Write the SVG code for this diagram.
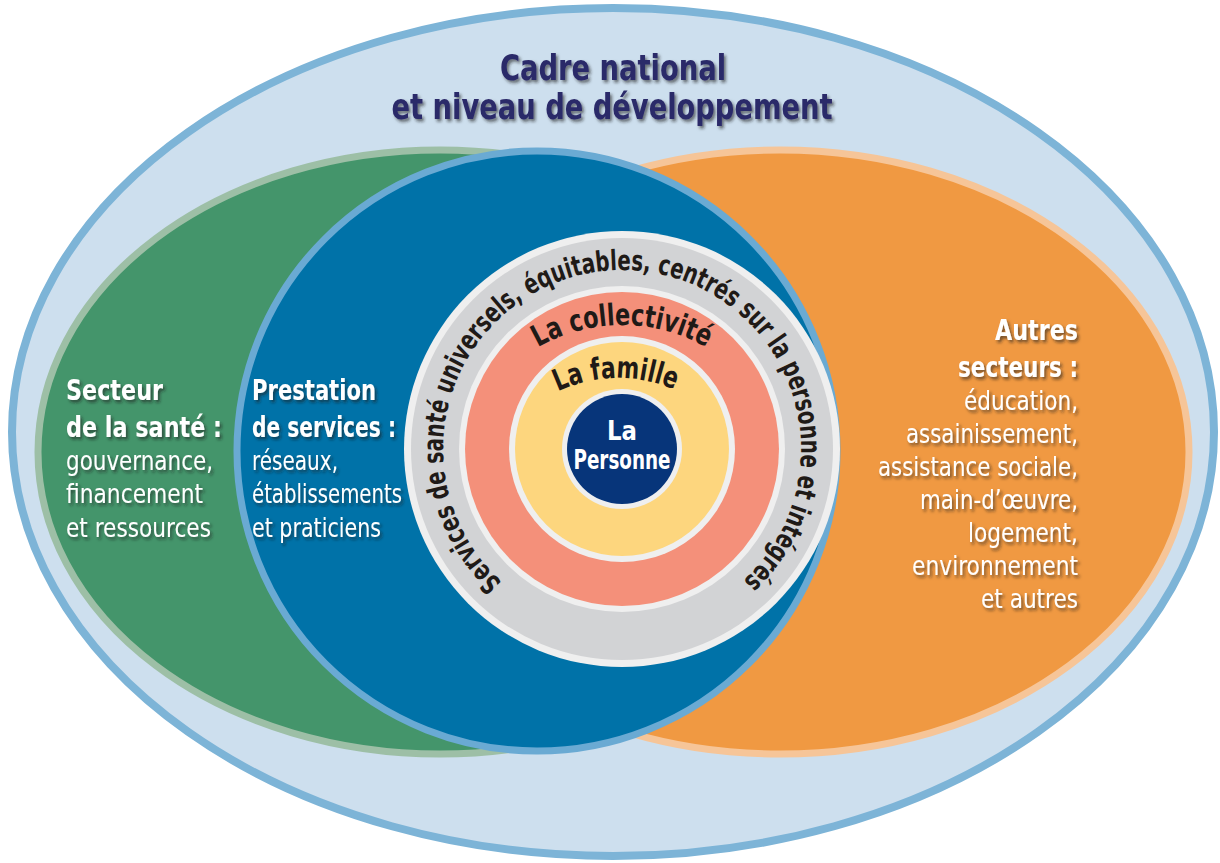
<svg xmlns="http://www.w3.org/2000/svg" xmlns:xlink="http://www.w3.org/1999/xlink" width="1220" height="863" viewBox="0 0 1220 863">
  <style>
    .cond { font-family: "Liberation Sans Narrow", "DejaVu Sans Condensed", "Liberation Sans", sans-serif; }
    .title { font-size: 35px; font-weight: bold; fill: #2b2969; }
    .head { font-size: 29px; font-weight: bold; fill: #ffffff; }
    .body { font-size: 27px; fill: #ffffff; }
    .ring { font-size: 28px; font-weight: bold; fill: #1f1a17; }
    .lbl { font-size: 30px; font-weight: bold; fill: #1f1a17; }
    .shadow { filter: url(#drop); }
  </style>
  <defs>
    <filter id="drop" x="-10%" y="-30%" width="130%" height="170%">
      <feDropShadow dx="2" dy="2.5" stdDeviation="1.8" flood-color="#1a1a1a" flood-opacity="0.6"/>
    </filter>
    <!-- baseline of the outer ring label, around the centre (622,449) -->
    <path id="arcServices" d="M 502.2 582 A 179 179 0 1 1 742.9 581"/>
    <!-- flatter baselines for the two inner labels -->
    <path id="arcCollect" d="M 452 495 A 170 170 0 0 1 792 495"/>
    <path id="arcFamille" d="M 476 520 A 142 142 0 0 1 760 520"/>
  </defs>

  <!-- national frame -->
  <g id="cadre">
    <ellipse cx="613" cy="432" rx="601" ry="424" fill="#cddfee" stroke="#7db4d7" stroke-width="8"/>
    <g class="cond title shadow" text-anchor="middle">
      <text x="613" y="80" textLength="226" lengthAdjust="spacingAndGlyphs">Cadre national</text>
      <text x="612" y="119" textLength="441" lengthAdjust="spacingAndGlyphs">et niveau de développement</text>
    </g>
  </g>

  <!-- health sector -->
  <g id="secteur-sante">
    <ellipse cx="440" cy="452" rx="402" ry="302" fill="#44956b" stroke="#9dbfa6" stroke-width="7"/>
  </g>

  <!-- other sectors -->
  <g id="autres-secteurs">
    <ellipse cx="780" cy="452" rx="409" ry="302" fill="#f09942" stroke="#f6c598" stroke-width="7"/>
  </g>

  <!-- service delivery -->
  <g id="prestation">
    <circle cx="537" cy="451" r="300" fill="#0072a8" stroke="#6aaad3" stroke-width="7"/>
  </g>

  <!-- people-centred services ring -->
  <g id="services">
    <circle cx="622" cy="449" r="218" fill="#efefef"/>
    <circle cx="622" cy="449" r="211" fill="#d2d3d5"/>
    <text class="cond ring"><textPath href="#arcServices" xlink:href="#arcServices" textLength="860" lengthAdjust="spacingAndGlyphs">Services de santé universels, équitables, centrés sur la personne et intégrés</textPath></text>
  </g>

  <g id="collectivite">
    <circle cx="622" cy="449" r="163" fill="#efefef"/>
    <circle cx="622" cy="449" r="157" fill="#f4907a"/>
    <text class="cond lbl" text-anchor="middle"><textPath href="#arcCollect" xlink:href="#arcCollect" startOffset="50%" textLength="176" lengthAdjust="spacingAndGlyphs">La collectivité</textPath></text>
  </g>

  <g id="famille">
    <circle cx="622" cy="449" r="113" fill="#efefef"/>
    <circle cx="622" cy="449" r="107" fill="#fdd67e"/>
    <text class="cond lbl" text-anchor="middle"><textPath href="#arcFamille" xlink:href="#arcFamille" startOffset="49.5%" textLength="120" lengthAdjust="spacingAndGlyphs">La famille</textPath></text>
  </g>

  <g id="personne">
    <circle cx="622" cy="449" r="60" fill="#efefef"/>
    <circle cx="622" cy="449" r="55" fill="#07357a"/>
    <g class="cond head" text-anchor="middle" style="font-size:27px">
      <text x="622" y="440" textLength="30" lengthAdjust="spacingAndGlyphs">La</text>
      <text x="622" y="469" textLength="97" lengthAdjust="spacingAndGlyphs">Personne</text>
    </g>
  </g>

  <!-- sector captions -->
  <g id="texte-sante" class="cond shadow">
    <text class="head" x="66" y="400" textLength="97" lengthAdjust="spacingAndGlyphs">Secteur</text>
    <text class="head" x="66" y="437" textLength="156" lengthAdjust="spacingAndGlyphs">de la santé :</text>
    <text class="body" x="66" y="470" textLength="147" lengthAdjust="spacingAndGlyphs">gouvernance,</text>
    <text class="body" x="66" y="503" textLength="137" lengthAdjust="spacingAndGlyphs">financement</text>
    <text class="body" x="66" y="537" textLength="145" lengthAdjust="spacingAndGlyphs">et ressources</text>
  </g>

  <g id="texte-prestation" class="cond shadow">
    <text class="head" x="252" y="400" textLength="124" lengthAdjust="spacingAndGlyphs">Prestation</text>
    <text class="head" x="252" y="437" textLength="144" lengthAdjust="spacingAndGlyphs">de services :</text>
    <text class="body" x="252" y="470" textLength="86" lengthAdjust="spacingAndGlyphs">réseaux,</text>
    <text class="body" x="252" y="503" textLength="150" lengthAdjust="spacingAndGlyphs">établissements</text>
    <text class="body" x="252" y="537" textLength="129" lengthAdjust="spacingAndGlyphs">et praticiens</text>
  </g>

  <g id="texte-autres" class="cond shadow" text-anchor="end">
    <text class="head" x="1078" y="340" textLength="83" lengthAdjust="spacingAndGlyphs">Autres</text>
    <text class="head" x="1078" y="377" textLength="120" lengthAdjust="spacingAndGlyphs">secteurs :</text>
    <text class="body" x="1078" y="410" textLength="114" lengthAdjust="spacingAndGlyphs">éducation,</text>
    <text class="body" x="1078" y="443" textLength="172" lengthAdjust="spacingAndGlyphs">assainissement,</text>
    <text class="body" x="1078" y="476" textLength="200" lengthAdjust="spacingAndGlyphs">assistance sociale,</text>
    <text class="body" x="1078" y="509" textLength="158" lengthAdjust="spacingAndGlyphs">main-d’œuvre,</text>
    <text class="body" x="1078" y="542" textLength="110" lengthAdjust="spacingAndGlyphs">logement,</text>
    <text class="body" x="1078" y="575" textLength="166" lengthAdjust="spacingAndGlyphs">environnement</text>
    <text class="body" x="1078" y="608" textLength="97" lengthAdjust="spacingAndGlyphs">et autres</text>
  </g>
</svg>
